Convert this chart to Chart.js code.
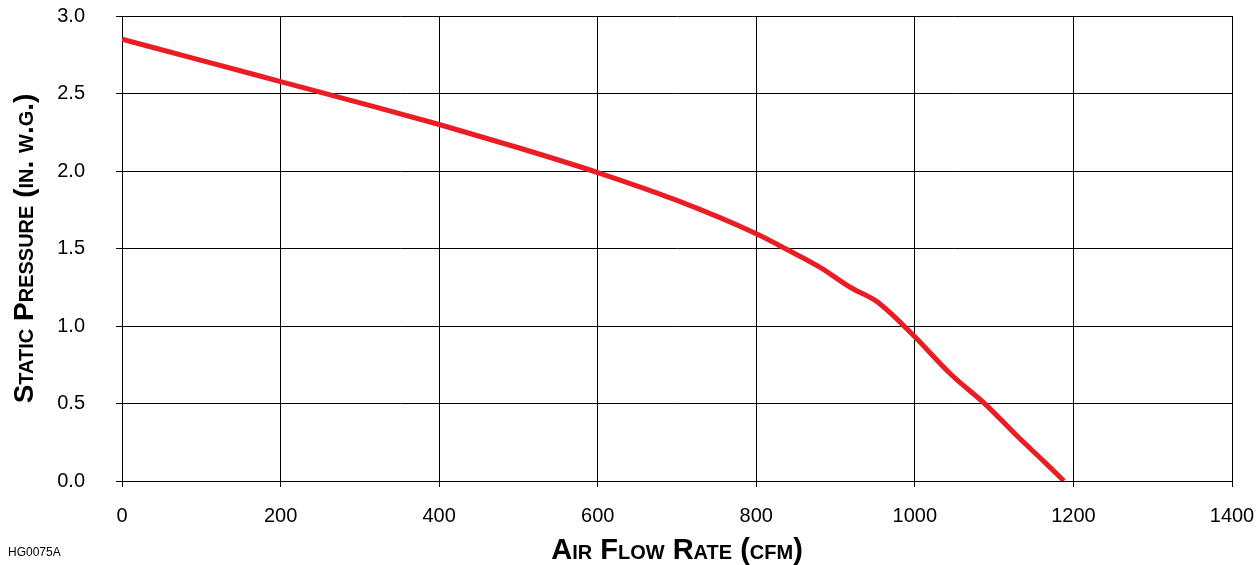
<!DOCTYPE html>
<html>
<head>
<meta charset="utf-8">
<script src="https://cdn.jsdelivr.net/npm/chart.js@4/dist/chart.umd.min.js"></script>
<style>
  body { margin: 0; background: #fff; }
  #wrap { position: relative; width: 1259px; height: 565px; }
  #code { position: absolute; left: 8px; top: 545px; font: 12px "Liberation Sans Narrow", "Liberation Sans", Arial, sans-serif; color: #000; }
</style>
</head>
<body>
<div id="wrap">
  <canvas id="curva"></canvas>
  <div id="code">HG0075A</div>
</div>
<script>
// fan curve
const flowCfm      = [0, 100, 200, 300, 400, 500, 600, 700, 800, 840, 880, 920, 950, 970, 1000, 1045, 1090, 1130, 1163, 1188];
const pressureInWg = [2.85, 2.714, 2.577, 2.44, 2.30, 2.15, 1.99, 1.81, 1.595, 1.49, 1.38, 1.245, 1.165, 1.08, 0.93, 0.69, 0.49, 0.285, 0.125, 0.0];
const xTicks = [0, 200, 400, 600, 800, 1000, 1200, 1400];
const yTicks = [0, 0.5, 1.0, 1.5, 2.0, 2.5, 3.0];

const pontos = flowCfm.map((x, i) => ({ x: x, y: pressureInWg[i] }));
const fonte = '"Liberation Sans", Arial, Helvetica, sans-serif';

var ctx = document.getElementById("curva");
var myChart = new Chart(ctx, {
  type: "line",
  data: {
    datasets: [
      {
        label: "Static Pressure",
        data: pontos,
        borderColor: "#ec1c24",
        borderWidth: 5,
        pointRadius: 0,
        cubicInterpolationMode: "monotone",
        fill: false
      }
    ]
  },
  options: {
    responsive: true,
    maintainAspectRatio: false,
    animation: false,
    layout: { padding: { top: 16, right: 27, bottom: 0, left: 0 } },
    plugins: { legend: { display: false }, tooltip: { enabled: false } },
    scales: {
      x: {
        type: "linear",
        min: xTicks[0],
        max: xTicks[xTicks.length - 1],
        afterBuildTicks: (s) => { s.ticks = xTicks.map(v => ({ value: v })); },
        // fixed box, no label overhang
        afterFit: (s) => { s.height = 84; s.paddingLeft = 0; s.paddingRight = 0; },
        grid: { color: "#000", lineWidth: 1, tickLength: 6, tickColor: "#000" },
        border: { color: "#000", width: 1 },
        ticks: { color: "#000", padding: 17, font: { family: fonte, size: 20 }, maxRotation: 0, callback: (v) => String(v) },
        title: {
          display: true,
          text: "Air Flow Rate (cfm)",
          color: "#000",
          font: { family: fonte, size: 29, weight: "small-caps bold", lineHeight: 1.0 },
          padding: { top: 0, bottom: 0 }
        }
      },
      y: {
        type: "linear",
        min: yTicks[0],
        max: yTicks[yTicks.length - 1],
        afterBuildTicks: (s) => { s.ticks = yTicks.map(v => ({ value: v })); },
        afterFit: (s) => { s.width = 122; s.paddingTop = 0; s.paddingBottom = 0; },
        grid: { color: "#000", lineWidth: 1, tickLength: 6, tickColor: "#000" },
        border: { color: "#000", width: 1 },
        ticks: { color: "#000", padding: 31, font: { family: fonte, size: 20 }, callback: (v) => Number(v).toFixed(1) },
        title: {
          display: true,
          text: "Static Pressure (in. w.g.)",
          color: "#000",
          font: { family: fonte, size: 28, weight: "small-caps bold", lineHeight: 1.0 },
          padding: { top: 11, bottom: 0 }
        }
      }
    }
  }
});
</script>
</body>
</html>
